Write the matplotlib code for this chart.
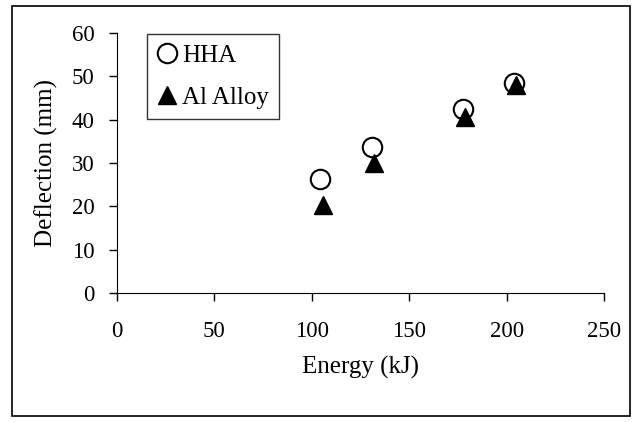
import matplotlib.pyplot as plt
from matplotlib.patches import Rectangle

plt.rcParams['font.family'] = ['Liberation Serif', 'DejaVu Serif']

energy_hha = [104, 131, 177.5, 204]
defl_hha = [26.2, 33.8, 42.5, 48.5]
energy_al = [105.5, 132, 178.5, 205]
defl_al = [20.3, 30, 40.7, 47.9]

x_ticks = [0, 50, 100, 150, 200, 250]
y_ticks = [0, 10, 20, 30, 40, 50, 60]

fig = plt.figure(figsize=(6.36, 4.22), dpi=100)
# outer chart border
fig.patches.append(Rectangle((12 / 636, 6 / 422), 618 / 636, 410 / 422,
                             transform=fig.transFigure, fill=False,
                             edgecolor='black', linewidth=1.2))
ax = fig.add_axes([117 / 636, 129 / 422, 487 / 636, 260 / 422])

ax.plot(energy_hha, defl_hha, 'o', markersize=14, markerfacecolor='none',
        markeredgecolor='black', markeredgewidth=1.5, label='HHA')
ax.plot(energy_al, defl_al, '^', markersize=13, color='black', label='Al Alloy')

ax.set_xlim(0, 250)
ax.set_ylim(0, 60)
ax.set_xticks(x_ticks)
ax.set_yticks(y_ticks)
ax.tick_params(direction='out', length=6, width=1, labelsize=16.5)
ax.tick_params(axis='x', pad=14)
ax.tick_params(axis='y', pad=10)
ax.spines['top'].set_visible(False)
ax.spines['right'].set_visible(False)
ax.set_xlabel('Energy (kJ)', fontsize=18, labelpad=10)
ax.set_ylabel('Deflection (mm)', fontsize=18, labelpad=10)

leg = ax.legend(loc='upper left', bbox_to_anchor=(0.062, 0.996), borderaxespad=0,
                fontsize=18, frameon=True, fancybox=False, edgecolor='black',
                handletextpad=0.2, handlelength=0.8, labelspacing=0.8,
                borderpad=0.4)
leg.get_frame().set_linewidth(1)

fig.savefig('out.png', dpi=100)
